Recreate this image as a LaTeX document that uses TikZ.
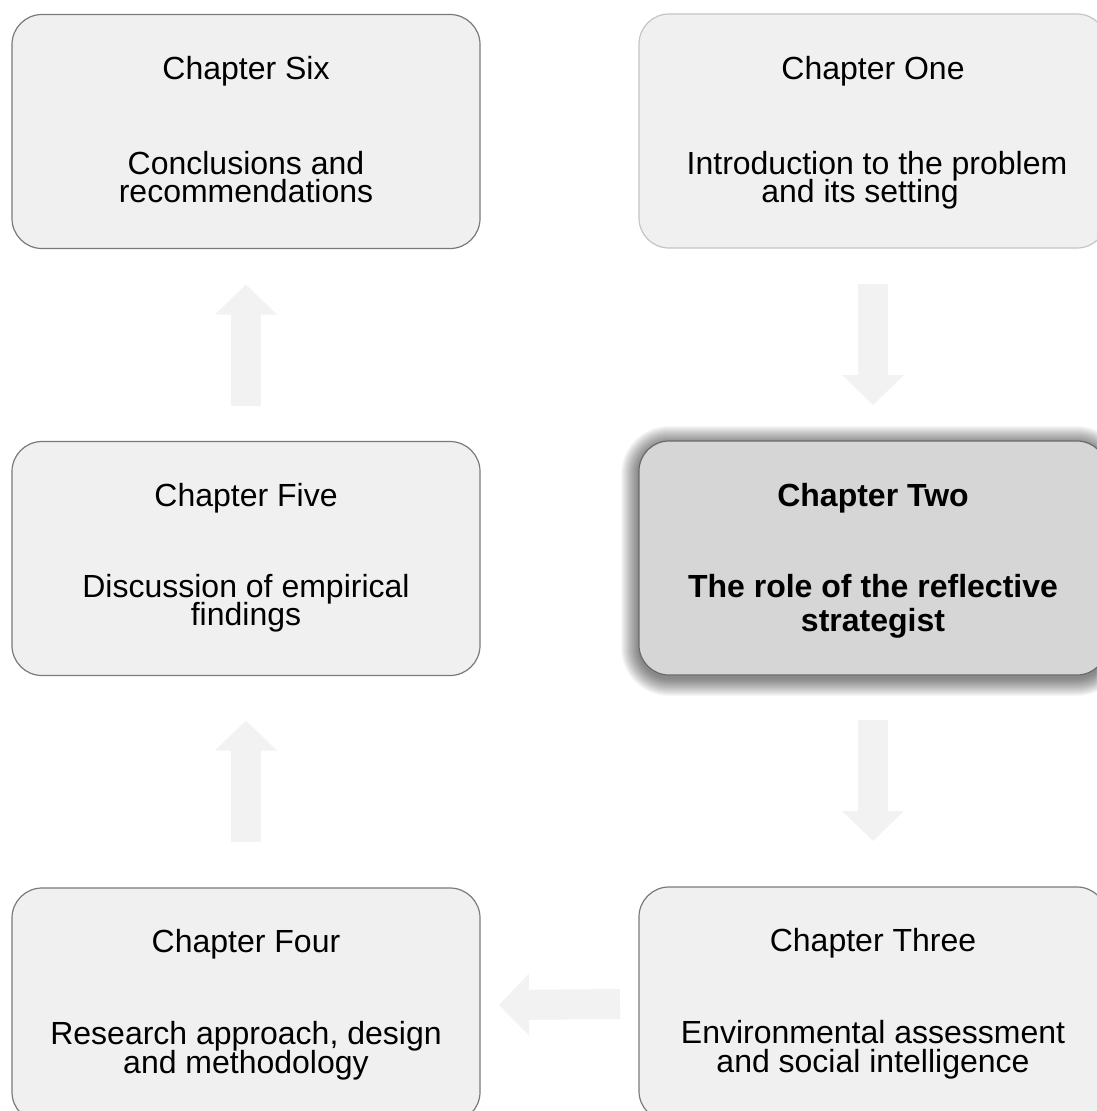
\documentclass[tikz,border=0pt]{standalone}
\usepackage{fontspec}
\setmainfont{Liberation Sans}
\usetikzlibrary{calc,arrows.meta,backgrounds}
\definecolor{boxfill}{HTML}{F0F0F0}
\definecolor{boxline}{HTML}{7A7A7A}
\definecolor{lightline}{HTML}{C4C4C4}
\definecolor{hifill}{HTML}{D6D6D6}
\definecolor{hiline}{HTML}{6A6A6A}
\definecolor{arrowfill}{HTML}{F2F2F2}
\begin{document}
\begin{tikzpicture}[x=1pt,y=-1pt,
  chapbox/.style={draw=boxline, line width=1.2pt, fill=boxfill, rounded corners=30pt,
    minimum width=468pt, minimum height=234pt, inner sep=0pt, outer sep=0pt},
  txt/.style={anchor=base, inner sep=0pt, font=\fontsize{32}{28}\selectfont},
  btxt/.style={anchor=base, inner sep=0pt, font=\fontsize{32}{28}\selectfont\bfseries},
  blockarr/.style={draw=arrowfill, line width=30pt, line cap=butt,
    -{Triangle[width=60pt,length=30pt]}}]
\useasboundingbox (0,0) rectangle (1096,1111);

% boxes
\node[chapbox] (six) at (246,131.5) {};
\node[chapbox, draw=lightline] (one) at (873,131) {};
\node[chapbox, fill=hifill, draw=hiline] (two) at (873,558) {};
\node[chapbox] (five) at (246,558.5) {};
\node[chapbox] (four) at (246,1005) {};
\node[chapbox] (three) at (873,1004) {};

% page background and soft shadow of the highlighted box
\begin{scope}[on background layer]
\fill[white] (0,0) rectangle (1096,1111);
\foreach \i [evaluate=\i as \r using 30+\i] in {1,...,18}{
  \fill[black, opacity=0.03, rounded corners=\r pt]
    ($(two.north west)+(-\i,-\i+3)$) rectangle ($(two.south east)+(\i,\i+3)$);
}
\end{scope}

% texts
\node[txt] (six-a) at ($(six.north)+(0,65)$) {Chapter Six};
\node[txt] (six-b) at ($(six.north)+(0,160)$) {Conclusions and};
\node[txt] (six-c) at ($(six.north)+(0,188)$) {recommendations};

\node[txt] (one-a) at ($(one.north)+(0,65)$) {Chapter One};
\node[txt] (one-b) at ($(one.north)+(4,160)$) {Introduction to the problem};
\node[txt] (one-c) at ($(one.north)+(-13,188)$) {and its setting};

\node[btxt] (two-a) at ($(two.north)+(0,65)$) {Chapter Two};
\node[btxt] (two-b) at ($(two.north)+(0,156)$) {The role of the reflective};
\node[btxt] (two-c) at ($(two.north)+(0,190)$) {strategist};

\node[txt] (five-a) at ($(five.north)+(0,65)$) {Chapter Five};
\node[txt] (five-b) at ($(five.north)+(0,156)$) {Discussion of empirical};
\node[txt] (five-c) at ($(five.north)+(0,184)$) {findings};

\node[txt] (four-a) at ($(four.north)+(0,64)$) {Chapter Four};
\node[txt] (four-b) at ($(four.north)+(0,156)$) {Research approach, design};
\node[txt] (four-c) at ($(four.north)+(0,185)$) {and methodology};

\node[txt] (three-a) at ($(three.north)+(0,64)$) {Chapter Three};
\node[txt] (three-b) at ($(three.north)+(0,156)$) {Environmental assessment};
\node[txt] (three-c) at ($(three.north)+(0,185)$) {and social intelligence};

% block arrows
\draw[blockarr] ($(one.south)+(0,36)$) -- ($(two.north)+(0,-36)$);
\draw[blockarr] ($(two.south)+(0,45)$) -- ($(three.north)+(0,-46)$);
\draw[blockarr] ($(three.west)+(-19,0)$) -- ($(four.east)+(19,0)$);
\draw[blockarr] ($(four.north)+(0,-46)$) -- ($(five.south)+(0,45)$);
\draw[blockarr] ($(five.north)+(0,-36)$) -- ($(six.south)+(0,36)$);
\end{tikzpicture}
\end{document}
